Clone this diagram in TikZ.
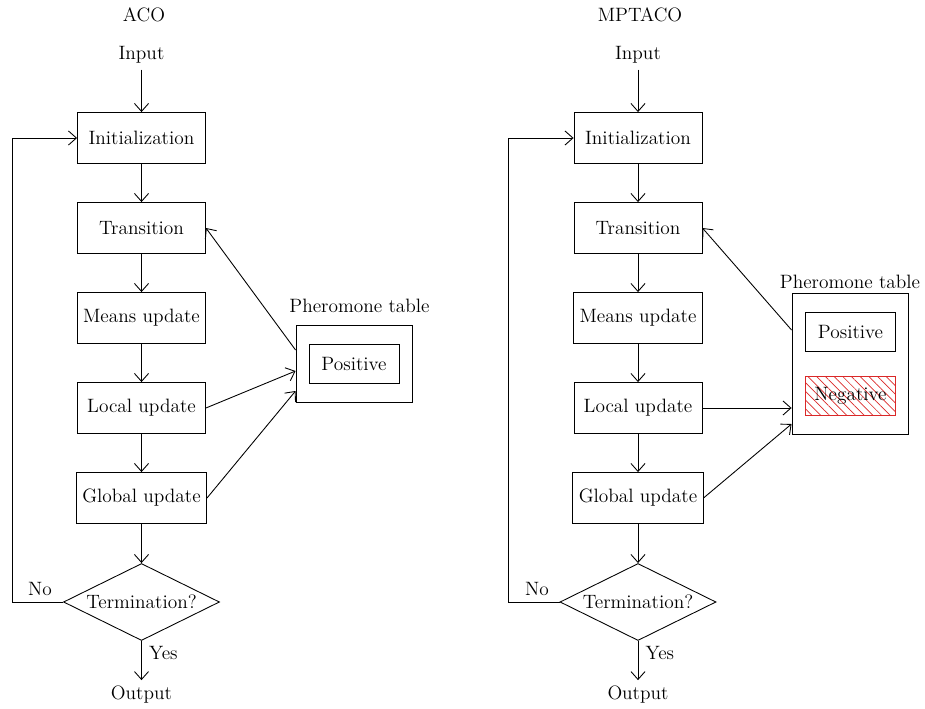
\documentclass[tikz,border=0pt]{standalone}
\definecolor{hatchred}{RGB}{218,40,40}
\usetikzlibrary{arrows.meta,positioning,shapes.geometric,calc,patterns.meta}
\tikzset{
  procbox/.style={draw, line width=0.5pt, minimum width=2.56cm, minimum height=1.02cm, align=center},
  decision/.style={draw, diamond, aspect=2.03, line width=0.5pt, minimum width=3.12cm, minimum height=1.54cm, inner sep=0pt},
  tablebox/.style={draw, line width=0.5pt, minimum width=2.32cm},
  entrybox/.style={draw, line width=0.5pt, minimum width=1.8cm, minimum height=0.78cm},
  flow/.style={-{Straight Barb[length=4.5pt,width=8pt]}, line width=0.5pt},
}

\begin{document}
\begin{tikzpicture}[font=\fontsize{11}{13}\selectfont]
  \useasboundingbox (0,0) rectangle (18.5,14.16);

  % Left flowchart: ACO
  \node (titleA) at (2.88,13.86) {ACO};
  \node (inA) at (2.83,13.06) {Input};
  \node[procbox] (initA) at (2.83,11.40) {Initialization};
  \node[procbox] (transA) at (2.83,9.60) {Transition};
  \node[procbox] (meansA) at (2.83,7.80) {Means update};
  \node[procbox] (localA) at (2.83,6.00) {Local update};
  \node[procbox] (globA) at (2.83,4.20) {Global update};
  \node[decision] (termA) at (2.83,2.12) {Termination?};
  \node (outA) at (2.83,0.26) {Output};
  \coordinate (loopA) at (0.24,2.12);
  \node (noA) at (0.80,2.38) {No};
  \node[anchor=west] (yesA) at (2.86,1.10) {Yes};

  % Left pheromone table
  \node[tablebox, minimum height=1.54cm] (ptabA) at (7.08,6.89) {};
  \node[entrybox] (posA) at (7.08,6.89) {Positive};
  \node (ptabAlabel) at (7.19,8.04) {Pheromone table};

  % Left arrows
  \draw[flow] (inA) -- (initA);
  \draw[flow] (initA) -- (transA);
  \draw[flow] (transA) -- (meansA);
  \draw[flow] (meansA) -- (localA);
  \draw[flow] (localA) -- (globA);
  \draw[flow] (globA) -- (termA);
  \draw[flow] (termA) -- (outA);
  \draw[flow] (termA.west) -- (loopA) |- (initA.west);
  \draw[flow] ($(ptabA.west)+(0,0.27)$) -- (transA.east);
  \draw[flow] (localA.east) -- ($(ptabA.west)+(0,-0.15)$);
  \draw[flow] (globA.east) -- ($(ptabA.west)+(0,-0.55)$);

  % Right flowchart: MPTACO
  \node (titleB) at (12.80,13.86) {MPTACO};
  \node (inB) at (12.76,13.06) {Input};
  \node[procbox] (initB) at (12.76,11.40) {Initialization};
  \node[procbox] (transB) at (12.76,9.60) {Transition};
  \node[procbox] (meansB) at (12.76,7.80) {Means update};
  \node[procbox] (localB) at (12.76,6.00) {Local update};
  \node[procbox] (globB) at (12.76,4.20) {Global update};
  \node[decision] (termB) at (12.76,2.12) {Termination?};
  \node (outB) at (12.76,0.26) {Output};
  \coordinate (loopB) at (10.17,2.12);
  \node (noB) at (10.74,2.38) {No};
  \node[anchor=west] (yesB) at (12.79,1.10) {Yes};

  % Right pheromone table
  \node[tablebox, minimum height=2.82cm] (ptabB) at (17.0,6.89) {};
  \node[entrybox] (posB) at (17.01,7.53) {Positive};
  \node[entrybox, draw=hatchred, pattern={Lines[angle=-45,distance=3.5pt,line width=0.4pt]}, pattern color=hatchred] (negB) at (17.01,6.25) {Negative};
  \node (ptabBlabel) at (17.0,8.52) {Pheromone table};

  % Right arrows
  \draw[flow] (inB) -- (initB);
  \draw[flow] (initB) -- (transB);
  \draw[flow] (transB) -- (meansB);
  \draw[flow] (meansB) -- (localB);
  \draw[flow] (localB) -- (globB);
  \draw[flow] (globB) -- (termB);
  \draw[flow] (termB) -- (outB);
  \draw[flow] (termB.west) -- (loopB) |- (initB.west);
  \draw[flow] ($(ptabB.west)+(0,0.67)$) -- (transB.east);
  \draw[flow] (localB.east) -- (localB.east -| ptabB.west);
  \draw[flow] (globB.east) -- ($(ptabB.west)+(0,-1.21)$);
\end{tikzpicture}
\end{document}
